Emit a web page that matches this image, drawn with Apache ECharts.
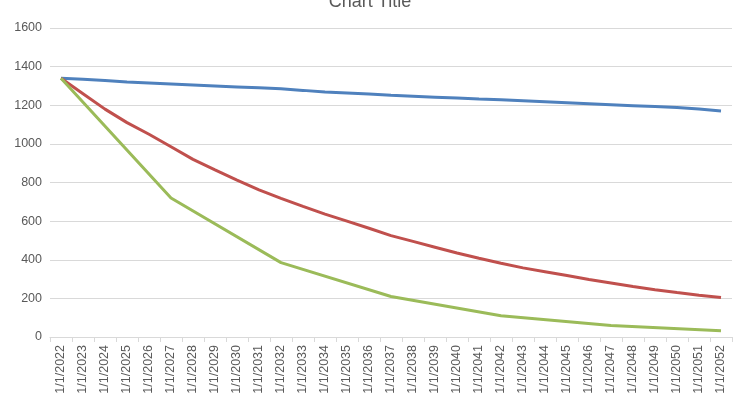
<!DOCTYPE html>
<html><head><meta charset="utf-8">
<script src="https://cdn.jsdelivr.net/npm/echarts@6/dist/echarts.min.js"></script>
<style>html,body{margin:0;background:#fff}#c{width:740px;height:413px}</style>
</head><body><div id="c"></div>
<script>
const categories = [];
for (let y = 2022; y <= 2052; y++) categories.push('1/1/' + y);
const blue = [1340,1335,1328,1320,1315,1310,1305,1300,1295,1290,1285,1277,1268,1263,1258,1252,1247,1242,1237,1232,1228,1223,1218,1213,1208,1203,1198,1193,1188,1180,1170];
const red = [1340,1260,1180,1110,1050,985,920,865,812,762,718,676,636,600,563,525,495,465,435,408,382,358,338,318,298,280,262,245,230,216,204];
const green = [1340,null,null,null,null,720,null,null,null,null,385,null,null,null,null,210,null,null,null,null,110,null,null,null,null,60,null,null,null,null,33];
const yTicks = [0,200,400,600,800,1000,1200,1400,1600];
const chart = echarts.init(document.getElementById('c'));
const mk = (d,c)=>({type:'line',data:d,connectNulls:true,symbol:'none',lineStyle:{width:3,color:c},itemStyle:{color:c}});
chart.setOption({
  animation:false,
  title:{text:'Chart Title',left:'center',top:-12,textStyle:{fontSize:18,fontWeight:'normal',color:'#595959',fontFamily:'Liberation Sans'}},
  grid:{left:50,right:8,top:28,bottom:76},
  xAxis:{type:'category',data:categories,boundaryGap:true,
    axisLine:{lineStyle:{color:'#d9d9d9'}},axisTick:{show:true,alignWithLabel:false,lineStyle:{color:'#d9d9d9'}},
    axisLabel:{rotate:90,interval:0,fontSize:12.5,color:'#595959',fontFamily:'Liberation Sans'}},
  yAxis:{type:'value',min:0,max:1600,interval:200,
    axisLabel:{fontSize:12.5,color:'#595959',fontFamily:'Liberation Sans',formatter:v=>yTicks.includes(v)?String(v):''},
    splitLine:{lineStyle:{color:'#d9d9d9'}},axisLine:{show:false}},
  series:[mk(blue,'#4f81bd'),mk(red,'#c0504d'),mk(green,'#9bbb59')]
});
</script></body></html>
